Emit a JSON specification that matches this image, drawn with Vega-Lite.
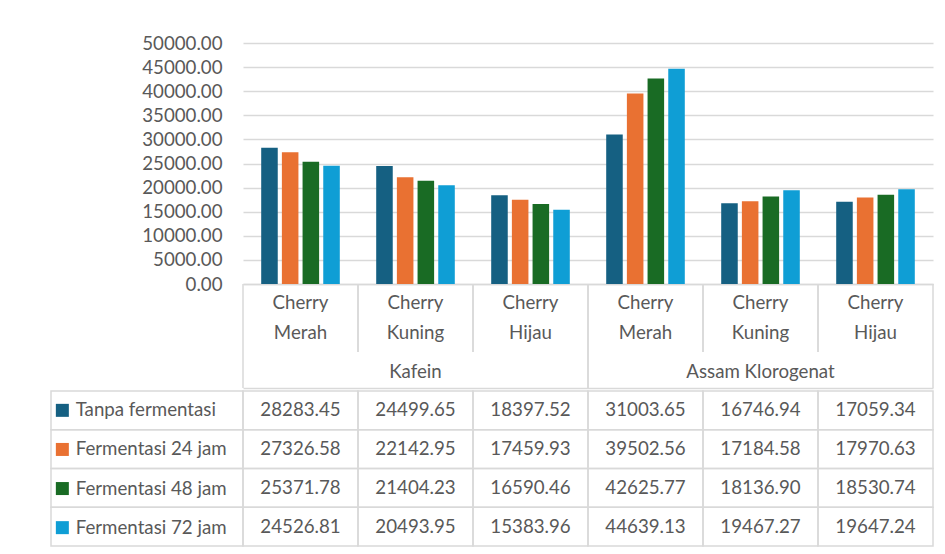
{
  "$schema": "https://vega.github.io/schema/vega-lite/v6.json",
  "background": "white",
  "padding": {"left": 50, "top": 34, "right": 5, "bottom": 5},
  "config": {
    "view": {"stroke": null},
    "font": "Lato",
    "text": {"font": "Lato", "fontSize": 18.7, "color": "#595959"},
    "axis": {"labelFont": "Lato", "labelFontSize": 18.7, "labelColor": "#595959"}
  },
  "datasets": {
    "nilai": [
      {"kolom": "Kafein – Cherry Merah", "perlakuan": "Tanpa fermentasi", "nilai": 28283.45},
      {"kolom": "Kafein – Cherry Merah", "perlakuan": "Fermentasi 24 jam", "nilai": 27326.58},
      {"kolom": "Kafein – Cherry Merah", "perlakuan": "Fermentasi 48 jam", "nilai": 25371.78},
      {"kolom": "Kafein – Cherry Merah", "perlakuan": "Fermentasi 72 jam", "nilai": 24526.81},
      {"kolom": "Kafein – Cherry Kuning", "perlakuan": "Tanpa fermentasi", "nilai": 24499.65},
      {"kolom": "Kafein – Cherry Kuning", "perlakuan": "Fermentasi 24 jam", "nilai": 22142.95},
      {"kolom": "Kafein – Cherry Kuning", "perlakuan": "Fermentasi 48 jam", "nilai": 21404.23},
      {"kolom": "Kafein – Cherry Kuning", "perlakuan": "Fermentasi 72 jam", "nilai": 20493.95},
      {"kolom": "Kafein – Cherry Hijau", "perlakuan": "Tanpa fermentasi", "nilai": 18397.52},
      {"kolom": "Kafein – Cherry Hijau", "perlakuan": "Fermentasi 24 jam", "nilai": 17459.93},
      {"kolom": "Kafein – Cherry Hijau", "perlakuan": "Fermentasi 48 jam", "nilai": 16590.46},
      {"kolom": "Kafein – Cherry Hijau", "perlakuan": "Fermentasi 72 jam", "nilai": 15383.96},
      {"kolom": "Assam Klorogenat – Cherry Merah", "perlakuan": "Tanpa fermentasi", "nilai": 31003.65},
      {"kolom": "Assam Klorogenat – Cherry Merah", "perlakuan": "Fermentasi 24 jam", "nilai": 39502.56},
      {"kolom": "Assam Klorogenat – Cherry Merah", "perlakuan": "Fermentasi 48 jam", "nilai": 42625.77},
      {"kolom": "Assam Klorogenat – Cherry Merah", "perlakuan": "Fermentasi 72 jam", "nilai": 44639.13},
      {"kolom": "Assam Klorogenat – Cherry Kuning", "perlakuan": "Tanpa fermentasi", "nilai": 16746.94},
      {"kolom": "Assam Klorogenat – Cherry Kuning", "perlakuan": "Fermentasi 24 jam", "nilai": 17184.58},
      {"kolom": "Assam Klorogenat – Cherry Kuning", "perlakuan": "Fermentasi 48 jam", "nilai": 18136.90},
      {"kolom": "Assam Klorogenat – Cherry Kuning", "perlakuan": "Fermentasi 72 jam", "nilai": 19467.27},
      {"kolom": "Assam Klorogenat – Cherry Hijau", "perlakuan": "Tanpa fermentasi", "nilai": 17059.34},
      {"kolom": "Assam Klorogenat – Cherry Hijau", "perlakuan": "Fermentasi 24 jam", "nilai": 17970.63},
      {"kolom": "Assam Klorogenat – Cherry Hijau", "perlakuan": "Fermentasi 48 jam", "nilai": 18530.74},
      {"kolom": "Assam Klorogenat – Cherry Hijau", "perlakuan": "Fermentasi 72 jam", "nilai": 19647.24}
    ],
    "kolom": [
      {"kolom": "Kafein – Cherry Merah", "jenis": "Cherry Merah", "grup": "Kafein"},
      {"kolom": "Kafein – Cherry Kuning", "jenis": "Cherry Kuning", "grup": "Kafein"},
      {"kolom": "Kafein – Cherry Hijau", "jenis": "Cherry Hijau", "grup": "Kafein"},
      {"kolom": "Assam Klorogenat – Cherry Merah", "jenis": "Cherry Merah", "grup": "Assam Klorogenat"},
      {"kolom": "Assam Klorogenat – Cherry Kuning", "jenis": "Cherry Kuning", "grup": "Assam Klorogenat"},
      {"kolom": "Assam Klorogenat – Cherry Hijau", "jenis": "Cherry Hijau", "grup": "Assam Klorogenat"}
    ],
    "grup": [
      {"grup": "Kafein"},
      {"grup": "Assam Klorogenat"}
    ],
    "perlakuan": [
      {"perlakuan": "Tanpa fermentasi"},
      {"perlakuan": "Fermentasi 24 jam"},
      {"perlakuan": "Fermentasi 48 jam"},
      {"perlakuan": "Fermentasi 72 jam"}
    ]
  },
  "columns": 2,
  "align": "each",
  "bounds": "flush",
  "spacing": 0,
  "resolve": {"scale": {"color": "independent"}},
  "concat": [
    {
      "data": {"values": [{}]},
      "width": 192, "height": 241,
      "mark": {"type": "point", "opacity": 0},
      "encoding": {}
    },
    {
      "data": {"name": "nilai"},
      "width": 690, "height": 241,
      "mark": {"type": "bar"},
      "encoding": {
        "x": {
          "field": "kolom", "type": "nominal", "sort": null,
          "scale": {"paddingInner": 0, "paddingOuter": 0},
          "axis": {"title": null, "labels": false, "ticks": false, "grid": false, "domain": true, "domainColor": "#d9d9d9", "domainWidth": 1.5}
        },
        "xOffset": {
          "field": "perlakuan", "type": "nominal", "sort": null,
          "scale": {"paddingInner": 0.2, "paddingOuter": 0.88}
        },
        "y": {
          "field": "nilai", "type": "quantitative",
          "scale": {"domain": [0, 50000], "nice": false},
          "axis": {
            "title": null, "values": [0, 5000, 10000, 15000, 20000, 25000, 30000, 35000, 40000, 45000, 50000],
            "format": ".2f", "grid": true, "gridColor": "#d9d9d9", "gridWidth": 1.5,
            "domain": false, "ticks": false, "tickSize": 0, "labelPadding": 21
          }
        },
        "color": {
          "field": "perlakuan", "type": "nominal", "sort": null,
          "scale": {"range": ["#156082", "#E97132", "#196B24", "#0F9ED5"]},
          "legend": {
            "title": null, "orient": "none", "legendX": -190, "legendY": 358,
            "symbolType": "square", "symbolSize": 169, "symbolStrokeWidth": 0,
            "labelFont": "Lato", "labelFontSize": 18.7, "labelColor": "#595959",
            "labelOffset": 4, "rowPadding": 19.1, "labelLimit": 300, "padding": 0
          }
        }
      }
    },
    {
      "data": {"values": [{}]},
      "width": 192, "height": 68,
      "mark": {"type": "point", "opacity": 0},
      "encoding": {}
    },
    {
      "data": {"name": "kolom"},
      "width": 690, "height": 68,
      "layer": [
        {
          "mark": {"type": "rule", "color": "#d9d9d9", "strokeWidth": 1.5},
          "encoding": {"x": {"field": "kolom", "type": "nominal", "sort": null, "bandPosition": 0, "scale": {"paddingInner": 0, "paddingOuter": 0}, "axis": null}}
        },
        {
          "mark": {"type": "rule", "color": "#d9d9d9", "strokeWidth": 1.5},
          "encoding": {"x": {"field": "kolom", "type": "nominal", "sort": null, "bandPosition": 1, "axis": null}}
        },
        {
          "mark": {"type": "text", "lineBreak": " ", "lineHeight": 30, "baseline": "middle", "dy": -15},
          "encoding": {
            "x": {"field": "kolom", "type": "nominal", "sort": null, "axis": null},
            "text": {"field": "jenis"}
          }
        }
      ]
    },
    {
      "data": {"values": [{}]},
      "width": 192, "height": 36,
      "mark": {"type": "point", "opacity": 0},
      "encoding": {}
    },
    {
      "data": {"name": "grup"},
      "width": 690, "height": 36,
      "layer": [
        {
          "mark": {"type": "rule", "color": "#d9d9d9", "strokeWidth": 1.5},
          "encoding": {"x": {"field": "grup", "type": "nominal", "sort": null, "bandPosition": 0, "scale": {"paddingInner": 0, "paddingOuter": 0},
            "axis": {"title": null, "labels": false, "ticks": false, "grid": false, "domain": true, "domainColor": "#d9d9d9", "domainWidth": 1.5}}}
        },
        {
          "mark": {"type": "rule", "color": "#d9d9d9", "strokeWidth": 1.5},
          "encoding": {"x": {"field": "grup", "type": "nominal", "sort": null, "bandPosition": 1,
            "axis": {"title": null, "labels": false, "ticks": false, "grid": false, "domain": true, "domainColor": "#d9d9d9", "domainWidth": 1.5}}}
        },
        {
          "mark": {"type": "text", "baseline": "middle", "dy": 2},
          "encoding": {
            "x": {"field": "grup", "type": "nominal", "sort": null,
              "axis": {"title": null, "labels": false, "ticks": false, "grid": false, "domain": true, "domainColor": "#d9d9d9", "domainWidth": 1.5}},
            "text": {"field": "grup"}
          }
        }
      ]
    },
    {
      "data": {"values": [{}]},
      "width": 192, "height": 3,
      "mark": {"type": "point", "opacity": 0},
      "encoding": {}
    },
    {
      "data": {"values": [{}]},
      "width": 690, "height": 3,
      "mark": {"type": "point", "opacity": 0},
      "encoding": {}
    },
    {
      "data": {"name": "perlakuan"},
      "width": 192, "height": 155,
      "mark": {"type": "rect", "filled": false, "color": "#d9d9d9", "strokeWidth": 1.5},
      "encoding": {
        "y": {"field": "perlakuan", "type": "nominal", "sort": null, "scale": {"paddingInner": 0, "paddingOuter": 0}, "axis": null}
      }
    },
    {
      "data": {"name": "nilai"},
      "width": 690, "height": 155,
      "layer": [
        {
          "mark": {"type": "rect", "filled": false, "color": "#d9d9d9", "strokeWidth": 1.5},
          "encoding": {
            "x": {"field": "kolom", "type": "nominal", "sort": null, "scale": {"paddingInner": 0, "paddingOuter": 0}, "axis": null},
            "y": {"field": "perlakuan", "type": "nominal", "sort": null, "scale": {"paddingInner": 0, "paddingOuter": 0}, "axis": null}
          }
        },
        {
          "mark": {"type": "text", "baseline": "middle"},
          "encoding": {
            "x": {"field": "kolom", "type": "nominal", "sort": null, "axis": null},
            "y": {"field": "perlakuan", "type": "nominal", "sort": null, "axis": null},
            "text": {"field": "nilai", "type": "quantitative", "format": ".2f"}
          }
        }
      ]
    }
  ]
}
